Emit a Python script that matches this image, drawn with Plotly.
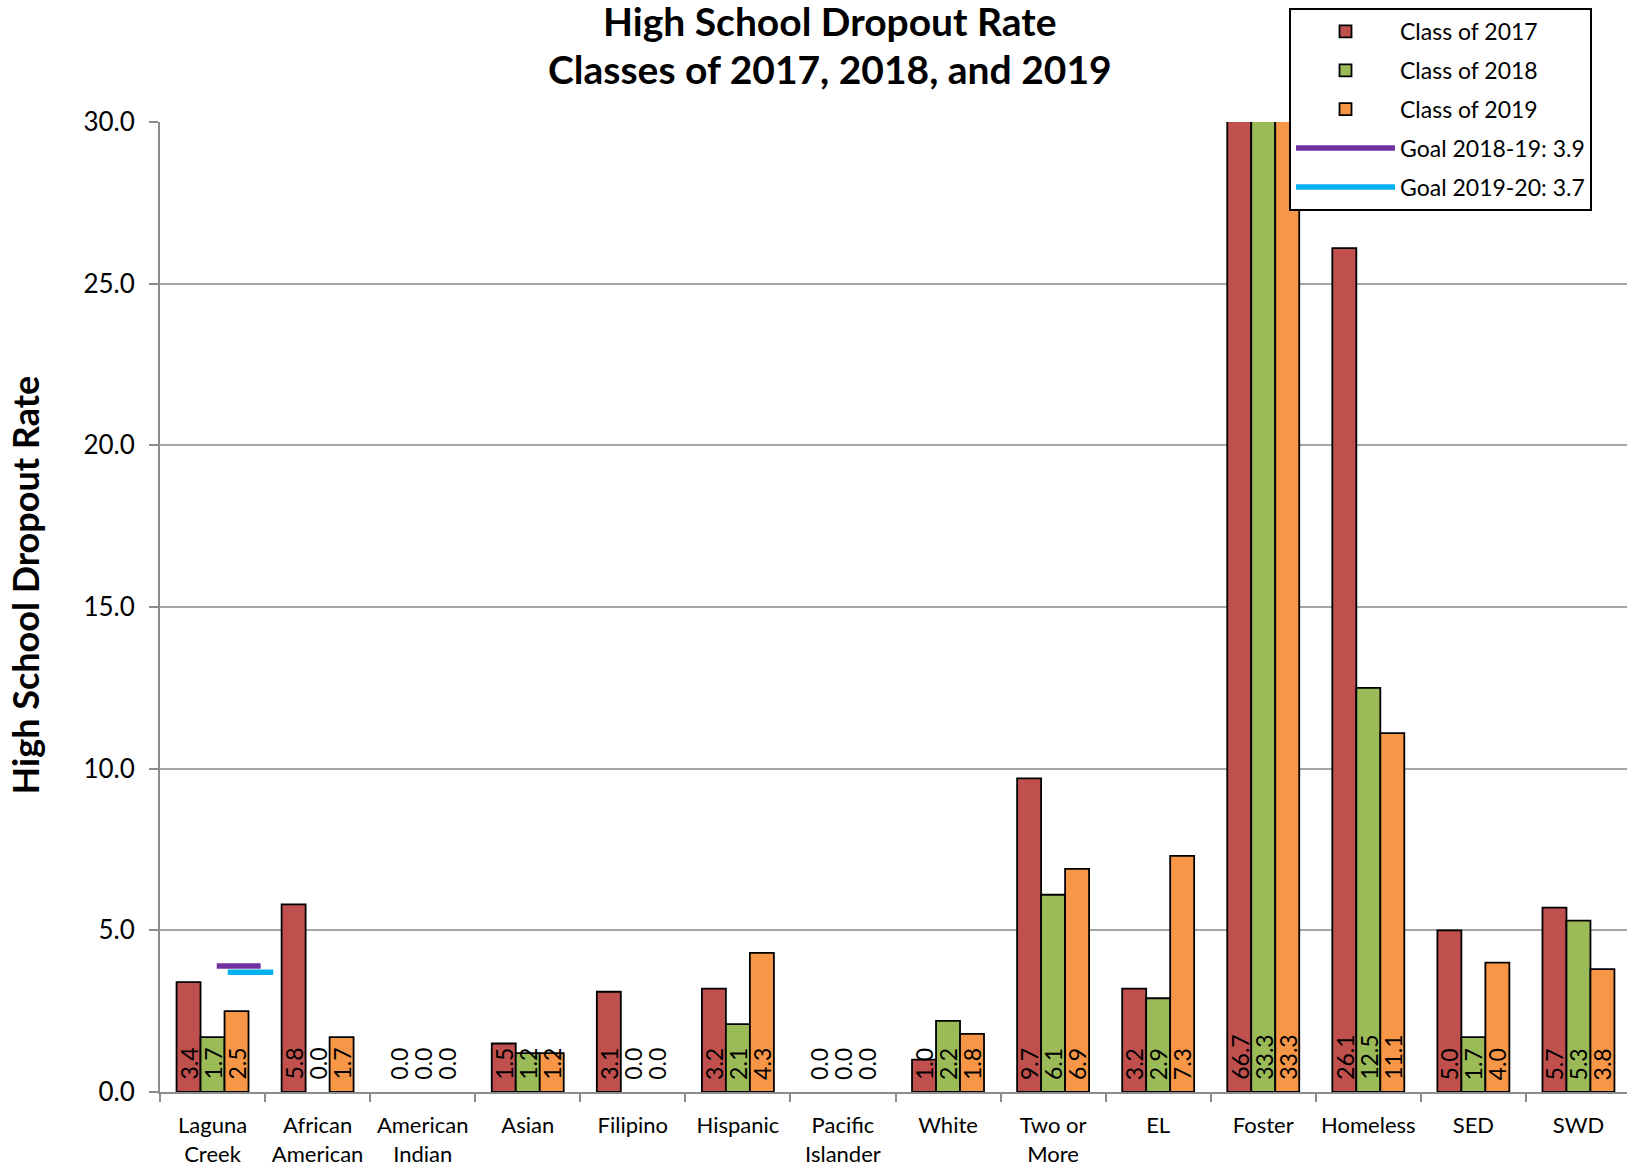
import plotly.graph_objects as go

# ---------------- data ----------------
categories = ["Laguna Creek", "African American", "American Indian", "Asian", "Filipino",
              "Hispanic", "Pacific Islander", "White", "Two or More", "EL", "Foster",
              "Homeless", "SED", "SWD"]
tick_labels = ["Laguna<br>Creek", "African<br>American", "American<br>Indian", "Asian", "Filipino",
               "Hispanic", "Pacific<br>Islander", "White", "Two or<br>More", "EL", "Foster",
               "Homeless", "SED", "SWD"]
class_2017 = [3.4, 5.8, 0.0, 1.5, 3.1, 3.2, 0.0, 1.0, 9.7, 3.2, 66.7, 26.1, 5.0, 5.7]
class_2018 = [1.7, 0.0, 0.0, 1.2, 0.0, 2.1, 0.0, 2.2, 6.1, 2.9, 33.3, 12.5, 1.7, 5.3]
class_2019 = [2.5, 1.7, 0.0, 1.2, 0.0, 4.3, 0.0, 1.8, 6.9, 7.3, 33.3, 11.1, 4.0, 3.8]
series_names = ["Class of 2017", "Class of 2018", "Class of 2019"]
goal_names = ["Goal 2018-19: 3.9", "Goal 2019-20: 3.7"]
goal_values = [3.9, 3.7]
y_tick_values = [0, 5, 10, 15, 20, 25, 30]

# ---------------- style ----------------
FONT = "Lato"
bar_colors = ["#C0504D", "#9BBB59", "#F79646"]
goal_colors = ["#7030A0", "#00B0F0"]
BARGAP = 0.315
X_RANGE = [-0.5, 13.462]
OUTLINE_W = 1.8
# horizontal extent of each goal marker segment, relative to the first category's index
goal_spans = [(0.04, 0.458), (0.145, 0.578)]

fig = go.Figure()

all_series = [class_2017, class_2018, class_2019]
for k, (name, vals) in enumerate(zip(series_names, all_series)):
    fig.add_trace(go.Bar(
        x=categories, y=vals, name=name,
        marker=dict(color=bar_colors[k],
                    line=dict(color="black",
                              width=[OUTLINE_W if v else 0 for v in vals])),
        legendgroup=name,
    ))

for g, (name, val) in enumerate(zip(goal_names, goal_values)):
    a, b = goal_spans[g]
    fig.add_trace(go.Scatter(
        x=[a, b], y=[val, val], mode="lines", name=name,
        line=dict(color=goal_colors[g], width=5.5),
        xaxis="x2", legendgroup=name,
    ))

# data labels at the base of each bar, rotated
n_series = len(all_series)
bw = (1 - BARGAP) / n_series
annotations = []
for k, vals in enumerate(all_series):
    for i, v in enumerate(vals):
        annotations.append(dict(
            x=i + (k - (n_series - 1) / 2) * bw, y=0, xref="x", yref="y",
            text=f"{v:.1f}", textangle=-90, showarrow=False,
            xanchor="center", yanchor="bottom", yshift=10,
            font=dict(family=FONT, size=23, color="black"),
        ))

# title lines
annotations.append(dict(x=0.4567, y=1.1045, xref="paper", yref="paper",
                        text="High School Dropout Rate", showarrow=False,
                        xanchor="center", yanchor="middle",
                        font=dict(family=FONT, size=39, color="black", weight="bold")))
annotations.append(dict(x=0.4567, y=1.0542, xref="paper", yref="paper",
                        text="Classes of 2017, 2018, and 2019", showarrow=False,
                        xanchor="center", yanchor="middle",
                        font=dict(family=FONT, size=39, color="black", weight="bold")))

fig.update_layout(
    width=1627, height=1167,
    margin=dict(l=160, r=0, t=122, b=75, autoexpand=False),
    paper_bgcolor="white", plot_bgcolor="white",
    barmode="group", bargap=BARGAP, bargroupgap=0,
    font=dict(family=FONT, color="black"),
    annotations=annotations,
    showlegend=True,
    legend=dict(
        x=0.7696, y=1.1176, xanchor="left", yanchor="top",
        bgcolor="white", bordercolor="black", borderwidth=2,
        font=dict(family=FONT, size=23, color="black"),
        traceorder="grouped", tracegroupgap=6,
        itemwidth=99,
    ),
    xaxis=dict(
        type="category", range=X_RANGE,
        tickmode="array", tickvals=categories, ticktext=tick_labels,
        tickangle=0,
        tickson="boundaries", ticks="outside", ticklen=8, tickwidth=2, tickcolor="#8C8C8C",
        showline=True, linecolor="#8C8C8C", linewidth=2,
        showgrid=False, zeroline=False,
        tickfont=dict(family=FONT, size=22, color="black"),
        ticklabelstandoff=13,
    ),
    xaxis2=dict(overlaying="x", range=X_RANGE, visible=False, type="linear"),
    yaxis=dict(
        range=[0, 30], tickmode="array", tickvals=y_tick_values, tickformat=".1f",
        ticks="outside", ticklen=9, tickwidth=2, tickcolor="#8C8C8C",
        showline=True, linecolor="#8C8C8C", linewidth=2,
        showgrid=True, gridcolor="#A6A6A6", gridwidth=2, zeroline=False,
        tickfont=dict(family=FONT, size=26, color="black"),
        ticklabelstandoff=9,
        title=dict(text="&nbsp;&nbsp;&nbsp;&nbsp;&nbsp;High School Dropout Rate", standoff=33,
                   font=dict(family=FONT, size=36, color="black", weight="bold")),
    ),
)

# the page's default 8px body margin would push the figure off its 1627x1167 frame
fig.write_html("out.html", config={"displayModeBar": False},
               post_script="document.body.style.margin='0';")
